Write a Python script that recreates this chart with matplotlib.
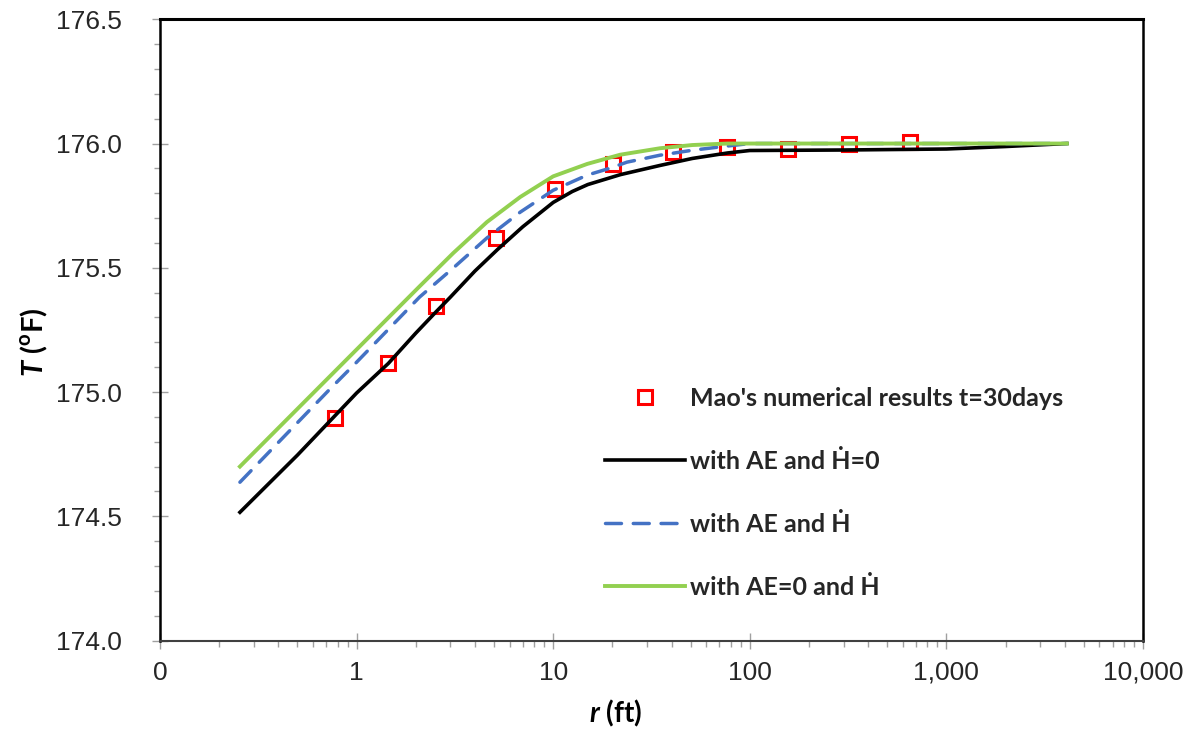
import matplotlib
matplotlib.use("Agg")
import matplotlib.pyplot as plt
from matplotlib.ticker import LogLocator, MultipleLocator, NullFormatter

# Mao's numerical results, t = 30 days
r_mao = [0.78, 1.45, 2.53, 5.12, 10.2, 20.1, 40.6, 76.5, 156, 320, 653]
T_mao = [174.894, 175.116, 175.345, 175.619, 175.817, 175.918, 175.966,
         175.985, 175.977, 176.0, 176.005]

# with AE and H-dot = 0
r_black = [0.255, 0.5, 1, 1.45, 2, 2.53, 3, 4, 5.2, 7, 10, 12.5, 15, 22, 35,
           51, 77, 100, 300, 1000, 2000, 4100]
T_black = [174.516, 174.746, 174.996, 175.115, 175.237, 175.322, 175.382,
           175.487, 175.573, 175.665, 175.763, 175.807, 175.835, 175.875,
           175.912, 175.94, 175.962, 175.972, 175.974, 175.978, 175.988, 176.0]

# with AE and H-dot
r_blue = [0.255, 0.73, 1, 2.09, 3.1, 4.6, 6.8, 10, 14.9, 19.5, 23.7, 34.9,
          51, 77, 100, 4100]
T_blue = [174.637, 175.011, 175.12, 175.382, 175.499, 175.62, 175.724,
          175.812, 175.873, 175.901, 175.925, 175.953, 175.973, 175.99,
          176.0, 176.0]

# with AE = 0 and H-dot
r_green = [0.255, 1, 2.09, 3.1, 4.6, 6.8, 10, 14.9, 21.9, 34.9, 51, 77, 4100]
T_green = [174.70, 175.171, 175.425, 175.559, 175.684, 175.785, 175.868,
           175.918, 175.955, 175.981, 175.994, 176.0, 176.0]

x_ticks = [0.1, 1, 10, 100, 1000, 10000]
x_labels = ["0", "1", "10", "100", "1,000", "10,000"]

plt.rcParams["mathtext.fontset"] = "custom"
plt.rcParams["mathtext.bf"] = "Lato:bold"
plt.rcParams["mathtext.bfit"] = "Lato:italic:bold"
plt.rcParams["mathtext.rm"] = "Lato:bold"

fig = plt.figure(figsize=(11.93, 7.29), dpi=100)
ax = fig.add_axes([160 / 1193, 1 - 640.5 / 729, 983 / 1193, 621.2 / 729])

ax.plot(r_mao, T_mao, "s", mfc="none", mec="#ff0000", ms=10, mew=2.2,
        zorder=2, label="Mao's numerical results t=30days")
ax.plot(r_black, T_black, color="black", lw=2.6, zorder=3,
        label="with AE and \u1e22=0")
ax.plot(r_blue, T_blue, color="#4472c4", lw=2.5, dashes=(4.6, 3.4),
        dash_capstyle="round", zorder=4, label="with AE and \u1e22")
ax.plot(r_green, T_green, color="#92d050", lw=2.8, zorder=5,
        label="with AE=0 and \u1e22")

ax.set_xscale("log")
ax.set_xlim(0.1, 10000)
ax.set_ylim(174.0, 176.5)
ax.set_xticks(x_ticks, x_labels)
ax.xaxis.set_minor_locator(LogLocator(base=10, subs=range(2, 10)))
ax.xaxis.set_minor_formatter(NullFormatter())
ax.yaxis.set_major_locator(MultipleLocator(0.5))
ax.yaxis.set_minor_locator(MultipleLocator(0.1))
ax.yaxis.set_major_formatter(lambda v, p: f"{v:.1f}")

for lab in ax.get_xticklabels() + ax.get_yticklabels():
    lab.set_fontfamily("Liberation Sans")
    lab.set_fontsize(19)
    lab.set_color("#262626")

ax.tick_params(axis="x", which="major", direction="inout", length=11,
               width=1, color="#a0a0a0", pad=9)
ax.tick_params(axis="x", which="minor", direction="out", length=4,
               width=1, color="#a0a0a0")
ax.tick_params(axis="y", which="major", direction="inout", length=11,
               width=1, color="#a0a0a0", pad=22)
ax.tick_params(axis="y", which="minor", direction="out", length=4,
               width=1, color="#a0a0a0")

for side in ["top", "left", "right"]:
    ax.spines[side].set_color("black")
    ax.spines[side].set_linewidth(1.8)
ax.spines["top"].set_linewidth(2.2)
ax.spines["bottom"].set_color("#404040")
ax.spines["bottom"].set_linewidth(1.5)

ax.set_xlabel(r"$\mathbfit{r}$ (ft)", fontsize=20, fontweight="bold",
              family=["Lato", "DejaVu Sans"])
ax.xaxis.set_label_coords(0.463, -0.093)
ax.set_ylabel(r"$\mathbfit{T}$ ($^{\mathbf{o}}$F)", fontsize=21,
              fontweight="bold", family=["Lato", "DejaVu Sans"])
ax.yaxis.set_label_coords(-0.112, 0.48)

leg = ax.legend(loc="upper left", bbox_to_anchor=(605 / 1193, 1 - 387 / 729),
                bbox_transform=fig.transFigure, frameon=False, borderpad=0,
                borderaxespad=0, numpoints=1, handlelength=3.2,
                handletextpad=0.2, labelspacing=1.6,
                prop={"family": ["Lato", "DejaVu Sans"], "weight": "bold",
                      "size": 18})
for t in leg.get_texts():
    t.set_color("#262626")

fig.savefig("out.png", dpi=100, facecolor="white")
